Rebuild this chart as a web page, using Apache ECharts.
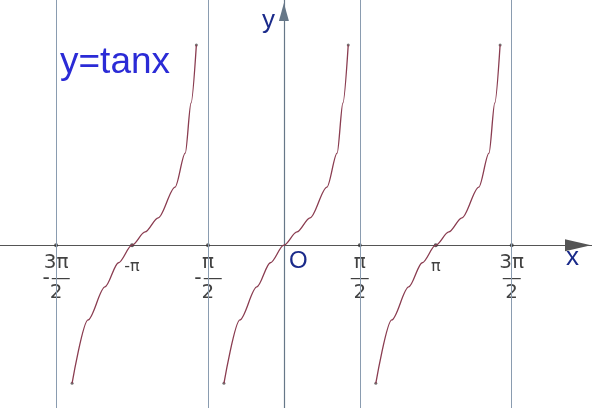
<!DOCTYPE html><html><head><meta charset="utf-8"><script src="https://cdn.jsdelivr.net/npm/echarts@6/dist/echarts.min.js"></script></head><body style="margin:0;background:#fff"><div id="c" style="width:592px;height:408px"></div><script>
const branchLeftX=[-4.38,-4.05,-3.70,-3.42,-3.14,-2.87,-2.60,-2.25,-2.04,-1.92,-1.81];
const branchMidX=[-1.24,-0.91,-0.56,-0.28,0,0.27,0.54,0.89,1.10,1.22,1.33];
const branchRightX=[1.90,2.23,2.58,2.86,3.14,3.41,3.68,4.03,4.24,4.36,4.47];
const branchY=[-3.14,-1.70,-0.95,-0.40,0,0.30,0.62,1.32,2.09,3.23,4.55];
const asymptotes=[-4.71,-1.57,1.57,4.71];
const tickLabels=[[-4.71,'{n|3π}\n{m|-}{b|—}\n{n|2}'],[-3.14,'{s|-π}'],[-1.57,'{n|π}\n{m|-}{b|—}\n{n|2}'],[1.57,'{n|π}\n{b|—}\n{n|2}'],[3.14,'{s|π}'],[4.71,'{n|3π}\n{b|—}\n{n|2}']];
const curveColor='#8a3c50';
function mk(xs){return xs.map((x,i)=>[x,branchY[i]]);}
const chart=echarts.init(document.getElementById('c'));
const rich={n:{fontSize:20,color:'#111',fontFamily:'DejaVu Sans',lineHeight:20},s:{fontSize:16,color:'#111',fontFamily:'DejaVu Sans',padding:[6,0,0,0]},m:{fontSize:22,color:'#111',lineHeight:10,padding:[0,2,0,0]},b:{fontSize:18,color:'#111',lineHeight:10}};
chart.setOption({
 animation:false,
 grid:{left:0,right:0,top:0,bottom:0},
 xAxis:{type:'value',min:-5.87,max:6.37,splitLine:{show:false},axisTick:{show:false},axisLabel:{show:false},
   axisLine:{onZero:true,lineStyle:{color:'#555',width:1.2},symbol:['none','triangle'],symbolSize:[12,26],symbolOffset:[0,-14]}},
 yAxis:{type:'value',min:-3.70,max:5.57,splitLine:{show:false},axisTick:{show:false},axisLabel:{show:false},
   axisLine:{onZero:true,lineStyle:{color:'#667788',width:1.2},symbol:['none','triangle'],symbolSize:[10,18],symbolOffset:[0,-12]}},
 graphic:[
  {type:'text',left:60,top:44,style:{text:'y=tanx',fontSize:37,fill:'#2b2bd6',fontFamily:'Liberation Sans'}},
  {type:'text',left:262,top:8,style:{text:'y',fontSize:26,fill:'#1a2a8a',fontFamily:'Liberation Sans'}},
  {type:'text',left:566,top:245,style:{text:'x',fontSize:26,fill:'#1a2a8a',fontFamily:'Liberation Sans'}},
  {type:'text',left:289,top:249,style:{text:'O',fontSize:24,fill:'#1a2a8a',fontFamily:'Liberation Sans'}}
 ],
 series:[
  ...[branchLeftX,branchMidX,branchRightX].map(xs=>({type:'line',data:mk(xs),smooth:0.3,smoothMonotone:'x',showSymbol:false,lineStyle:{color:curveColor,width:1.3},z:3})),
  {type:'scatter',data:[[branchLeftX[0],branchY[0]],[branchLeftX[10],branchY[10]],[branchMidX[0],branchY[0]],[branchMidX[10],branchY[10]],[branchRightX[0],branchY[0]],[branchRightX[10],branchY[10]]],symbolSize:3,itemStyle:{color:'#555'}},
  {type:'line',data:[],markLine:{silent:true,symbol:'none',label:{show:false},lineStyle:{color:'#8a9cb0',width:1,type:'solid'},data:asymptotes.map(a=>({xAxis:a}))}},
  {type:'scatter',data:tickLabels.map(t=>({value:[t[0],0],label:{formatter:t[1]}})),symbolSize:4,itemStyle:{color:'#333'},
   label:{show:true,position:'bottom',distance:6,rich,fontSize:17,color:'#111',align:'center'}}
 ]
});
</script></body></html>
